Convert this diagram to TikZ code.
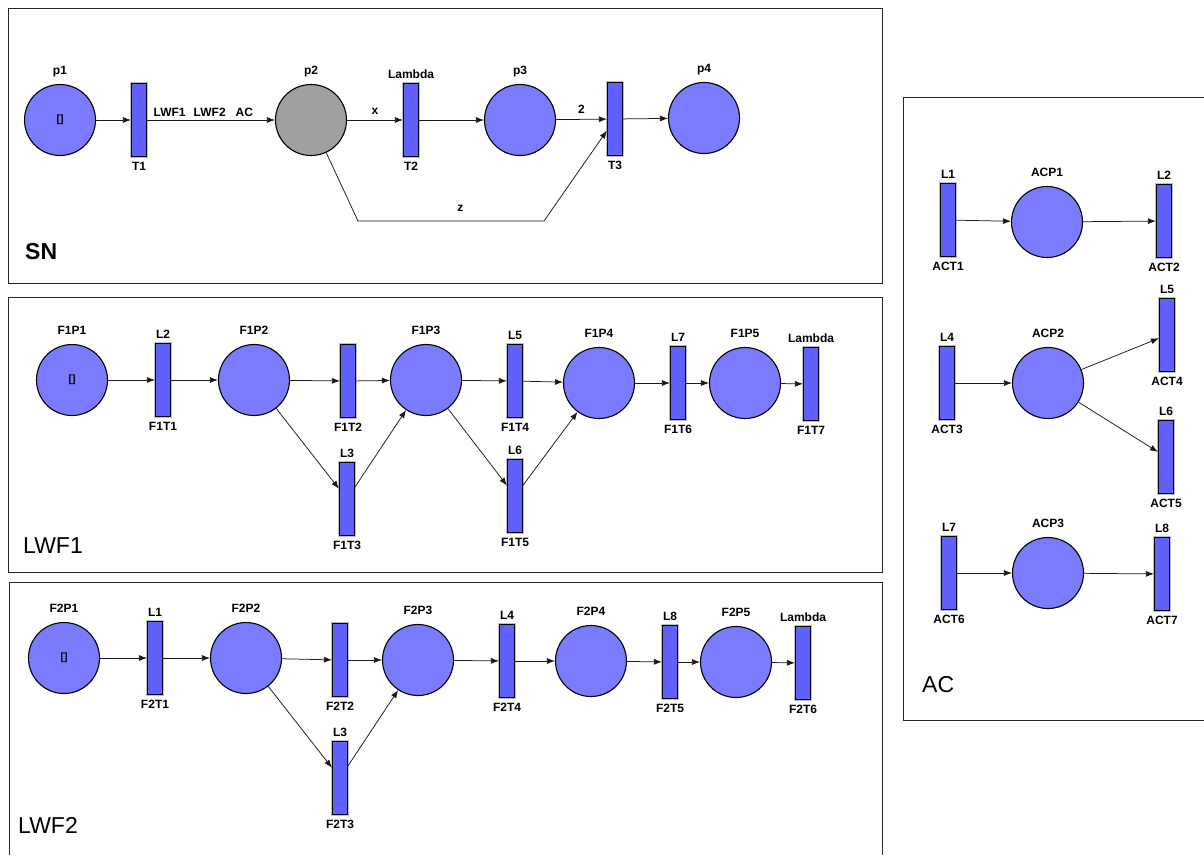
\documentclass[tikz,border=0pt]{standalone}
\usepackage{fontspec}
\setmainfont{Liberation Sans}
\usetikzlibrary{arrows.meta}
\definecolor{placeblue}{RGB}{123,123,255}
\definecolor{transblue}{RGB}{96,96,255}
\definecolor{markgray}{RGB}{160,160,160}

\begin{document}
\begin{tikzpicture}[x=1pt, y=-1pt,
    place/.style={circle, draw, line width=1.1pt, fill=placeblue, minimum size=71pt,
        inner sep=0pt, font=\fontsize{10.5}{12}\selectfont\bfseries},
    placename/.style={label={[outer sep=9pt]above:#1}},
    trans/.style={rectangle, draw, line width=1.1pt, fill=transblue, minimum width=15pt,
        minimum height=73pt, inner sep=0pt,
        preaction={draw=black!25, line width=2.8pt}},
    arc/.style={draw=black!90, line width=0.75pt, -{Latex[length=8pt,width=6pt]}},
    every label/.style={font=\fontsize{12}{14}\selectfont\bfseries, inner sep=0pt,
        outer sep=4.5pt, text height=8.6pt, text depth=0pt},
    lbl/.style={font=\fontsize{12}{14}\selectfont\bfseries, inner sep=0pt, text depth=0pt},
    box/.style={draw=black!85, line width=0.8pt},
    netname/.style={anchor=base west, inner sep=0pt, font=\fontsize{23}{26}\selectfont}]
    \useasboundingbox (0,0) rectangle (1204,855);

    % SN
    \draw[box] (8,8) rectangle (882,283);
    \node[netname, font=\fontsize{23}{26}\selectfont\bfseries] (snname) at (25,259) {SN};
    \node[place, placename=p1] (p1) at (60,120) {[]};
    \node[trans, label=below:T1] (T1) at (139,120) {};
    \node[place, fill=markgray, placename=p2] (p2) at (311,120) {};
    \node[trans, label=above:Lambda, label=below:T2] (T2) at (411,120) {};
    \node[place, placename=p3] (p3) at (520,120) {};
    \node[trans, label=below:T3] (T3) at (615,119) {};
    \node[place, placename=p4] (p4) at (704,118) {};
    \coordinate (zleft) at (358,221);
    \coordinate (zright) at (544,221);
    \draw[arc] (p1) -- (T1);
    \draw[arc] (T1) -- node[lbl, above=3pt, pos=0.44] {LWF1\hspace{8pt}LWF2\hspace{10pt}AC} (p2);
    \draw[arc] (p2) -- node[lbl, above=5pt] {x} (T2);
    \draw[arc] (T2) -- (p3);
    \draw[arc] (p3) -- node[lbl, above=5pt] {2} (T3);
    \draw[arc] (T3) -- (p4);
    \draw[arc] (p2) -- (zleft) -- node[lbl, above=9pt, pos=0.55] {z} (zright) -- (T3);

    % LWF1
    \draw[box] (8,297) rectangle (882,572);
    \node[netname] (lwf1name) at (23,553) {LWF1};
    \node[place, placename=F1P1] (F1P1) at (72,380) {[]};
    \node[trans, label=above:L2, label=below:F1T1] (F1T1) at (163,380) {};
    \node[place, placename=F1P2] (F1P2) at (254,380) {};
    \node[trans, label=below:F1T2] (F1T2) at (348,381) {};
    \node[trans, label=above:L3, label=below:F1T3] (F1T3) at (347,499) {};
    \node[place, placename=F1P3] (F1P3) at (426,380) {};
    \node[trans, label=above:L5, label=below:F1T4] (F1T4) at (515,381) {};
    \node[trans, label=above:L6, label=below:F1T5] (F1T5) at (515,496) {};
    \node[place, placename=F1P4] (F1P4) at (599,383) {};
    \node[trans, label=above:L7, label=below:F1T6] (F1T6) at (678,383) {};
    \node[place, placename=F1P5] (F1P5) at (745,383) {};
    \node[trans, label=above:Lambda, label=below:F1T7] (F1T7) at (811,384) {};
    \draw[arc] (F1P1) -- (F1T1);
    \draw[arc] (F1T1) -- (F1P2);
    \draw[arc] (F1P2) -- (F1T2);
    \draw[arc] (F1P2) -- (F1T3);
    \draw[arc] (F1T2) -- (F1P3);
    \draw[arc] (F1T3) -- (F1P3);
    \draw[arc] (F1P3) -- (F1T4);
    \draw[arc] (F1P3) -- (F1T5);
    \draw[arc] (F1T4) -- (F1P4);
    \draw[arc] (F1T5) -- (F1P4);
    \draw[arc] (F1P4) -- (F1T6);
    \draw[arc] (F1T6) -- (F1P5);
    \draw[arc] (F1P5) -- (F1T7);

    % LWF2
    \draw[box] (9,855) -- (9,582) -- (882,582) -- (882,855);
    \node[netname] (lwf2name) at (18,833) {LWF2};
    \node[place, placename=F2P1] (F2P1) at (64,658) {[]};
    \node[trans, label=above:L1, label=below:F2T1] (F2T1) at (155,658) {};
    \node[place, placename=F2P2] (F2P2) at (246,658) {};
    \node[trans, label=below:F2T2] (F2T2) at (340,660) {};
    \node[trans, label=above:L3, label=below:F2T3] (F2T3) at (340,778) {};
    \node[place, placename=F2P3] (F2P3) at (418,660) {};
    \node[trans, label=above:L4, label=below:F2T4] (F2T4) at (507,661) {};
    \node[place, placename=F2P4] (F2P4) at (591,661) {};
    \node[trans, label=above:L8, label=below:F2T5] (F2T5) at (670,662) {};
    \node[place, placename=F2P5] (F2P5) at (736,662) {};
    \node[trans, label=above:Lambda, label=below:F2T6] (F2T6) at (803,663) {};
    \draw[arc] (F2P1) -- (F2T1);
    \draw[arc] (F2T1) -- (F2P2);
    \draw[arc] (F2P2) -- (F2T2);
    \draw[arc] (F2P2) -- (F2T3);
    \draw[arc] (F2T2) -- (F2P3);
    \draw[arc] (F2T3) -- (F2P3);
    \draw[arc] (F2P3) -- (F2T4);
    \draw[arc] (F2T4) -- (F2P4);
    \draw[arc] (F2P4) -- (F2T5);
    \draw[arc] (F2T5) -- (F2P5);
    \draw[arc] (F2P5) -- (F2T6);

    % AC
    \draw[box] (1204,97) -- (903,97) -- (903,720) -- (1204,720);
    \node[netname] (acname) at (922,692) {AC};
    \node[trans, label=above:L1, label=below:ACT1] (ACT1) at (948,220) {};
    \node[place, placename=ACP1] (ACP1) at (1047,222) {};
    \node[trans, label=above:L2, label=below:ACT2] (ACT2) at (1164,221) {};
    \node[trans, label=above:L4, label=below:ACT3] (ACT3) at (947,383) {};
    \node[place, placename=ACP2] (ACP2) at (1048,383) {};
    \node[trans, label=above:L5, label=below:ACT4] (ACT4) at (1167,335) {};
    \node[trans, label=above:L6, label=below:ACT5] (ACT5) at (1166,457) {};
    \node[trans, label=above:L7, label=below:ACT6] (ACT6) at (949,573) {};
    \node[place, placename=ACP3] (ACP3) at (1048,573) {};
    \node[trans, label=above:L8, label=below:ACT7] (ACT7) at (1162,574) {};
    \draw[arc] (ACT1) -- (ACP1);
    \draw[arc] (ACP1) -- (ACT2);
    \draw[arc] (ACT3) -- (ACP2);
    \draw[arc] (ACP2) -- (ACT4);
    \draw[arc] (ACP2) -- (ACT5);
    \draw[arc] (ACT6) -- (ACP3);
    \draw[arc] (ACP3) -- (ACT7);
\end{tikzpicture}
\end{document}
